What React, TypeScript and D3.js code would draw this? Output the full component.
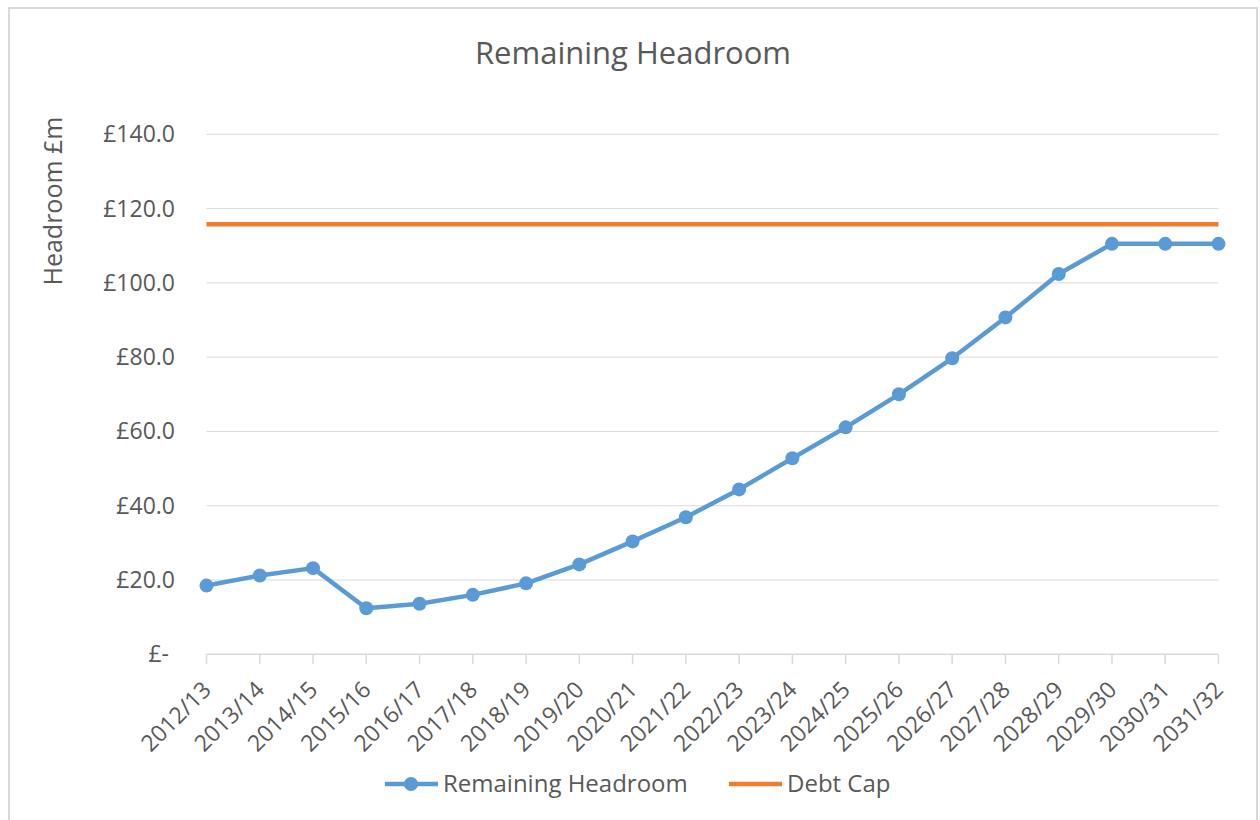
import React from "react";
import * as d3 from "d3";

const categories = ["2012/13","2013/14","2014/15","2015/16","2016/17","2017/18","2018/19","2019/20","2020/21","2021/22","2022/23","2023/24","2024/25","2025/26","2026/27","2027/28","2028/29","2029/30","2030/31","2031/32"];
const remainingHeadroom = [18.5,21.2,23.2,12.4,13.6,16.0,19.1,24.2,30.4,36.9,44.4,52.8,61.1,70.0,79.7,90.7,102.4,110.5,110.5,110.5];
const debtCap = [115.8,115.8,115.8,115.8,115.8,115.8,115.8,115.8,115.8,115.8,115.8,115.8,115.8,115.8,115.8,115.8,115.8,115.8,115.8,115.8];
const yTicks = [0,20,40,60,80,100,120,140];

const W = 1260, H = 820;
const FONT = "'Open Sans', 'Noto Sans', sans-serif";
const BLUE = "#5B9BD5", ORANGE = "#ED7D31", GREY = "#595959", GRID = "#d9d9d9";

export default function App() {
  const x = d3.scalePoint<string>().domain(categories).range([206.5, 1218.5]);
  const y = d3.scaleLinear().domain([0, 140]).range([654.3, 134.3]);
  const line = d3.line<number>().x((_, i) => x(categories[i])!).y((d) => y(d));
  const fmt = (v: number) => (v === 0 ? "£-" : "£" + v.toFixed(1));
  return (
    <svg width={W} height={H} style={{ position: "absolute", left: 0, top: 0 }} fontFamily={FONT}>
      <rect x={0} y={0} width={W} height={H} fill="#fff" />
      <rect x={9} y={8} width={1248} height={830} fill="#fff" stroke={GRID} strokeWidth={2} />
      <text x={633} y={64} textAnchor="middle" fontSize={31} fill={GREY}>Remaining Headroom</text>
      {yTicks.map((t) => (
        <g key={t}>
          {t > 0 && <line x1={206.5} x2={1218.5} y1={y(t)} y2={y(t)} stroke={GRID} strokeWidth={1} />}
          <text x={t === 0 ? 169 : 175} y={y(t)} dy="0.35em" textAnchor="end" fontSize={23} fill={GREY}>{fmt(t)}</text>
        </g>
      ))}
      <text transform={`translate(62,201) rotate(-90)`} textAnchor="middle" fontSize={25} fill={GREY}>Headroom £m</text>
      <line x1={206.5} x2={1218.5} y1={y(0)} y2={y(0)} stroke={GRID} strokeWidth={1.5} />
      {categories.map((c) => (
        <g key={c}>
          <line x1={x(c)!} x2={x(c)!} y1={y(0)} y2={y(0) + 10} stroke={GRID} strokeWidth={1.5} />
          <text transform={`translate(${x(c)! + 6},${y(0) + 37}) rotate(-45)`} textAnchor="end" fontSize={23} fill={GREY}>{c}</text>
        </g>
      ))}
      <path d={line(debtCap)!} fill="none" stroke={ORANGE} strokeWidth={4.5} />
      <path d={line(remainingHeadroom)!} fill="none" stroke={BLUE} strokeWidth={4.5} strokeLinejoin="round" />
      {remainingHeadroom.map((v, i) => (
        <circle key={i} cx={x(categories[i])!} cy={y(v)} r={7} fill={BLUE} />
      ))}
      <line x1={385} x2={438} y1={784} y2={784} stroke={BLUE} strokeWidth={4.5} />
      <circle cx={411} cy={784} r={7} fill={BLUE} />
      <text x={443} y={784} dy="0.35em" fontSize={24} fill={GREY}>Remaining Headroom</text>
      <line x1={729} x2={782} y1={784} y2={784} stroke={ORANGE} strokeWidth={4.5} />
      <text x={787} y={784} dy="0.35em" fontSize={24} fill={GREY}>Debt Cap</text>
    </svg>
  );
}
